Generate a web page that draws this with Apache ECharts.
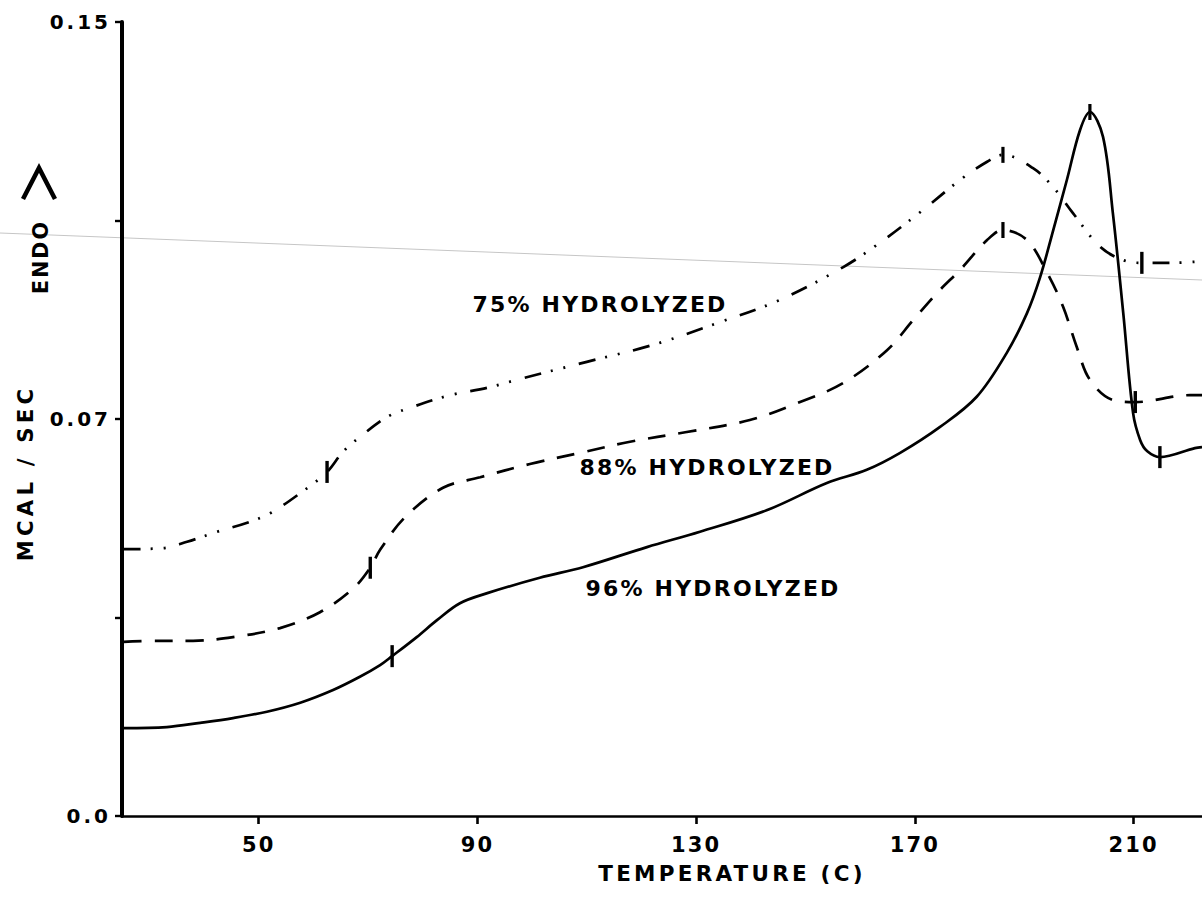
<!DOCTYPE html>
<html>
<head>
<meta charset="utf-8">
<script src="https://cdn.jsdelivr.net/npm/echarts@6/dist/echarts.min.js"></script>
<style>
  html, body { margin: 0; padding: 0; background: #ffffff; }
  #chart { width: 1202px; height: 913px; }
  /* tracking for the plotter-style lettering, keyed on font size */
  #chart text[style*="20px"]   { letter-spacing: 0.15em; }
  #chart text[style*="21px"]   { letter-spacing: 0.10em; }
  #chart text[style*="21.5px"] { letter-spacing: 0.15em; }
  #chart text[style*="22px"]   { letter-spacing: 0.10em; }
  #chart text[style*="21.2px"] { letter-spacing: 0.20em; }
  #chart text[style*="20.5px"] { letter-spacing: 0.10em; }
</style>
</head>
<body>
<div id="chart"></div>
<script>
// Temperature (C) and heat flow (mcal/sec) for each degree of hydrolysis
const t75 = [25.3, 32.5, 36.9, 42.4, 47.9, 52.1, 57.6, 62.5, 65.4, 68.5, 73.5, 78.2, 85.0, 91.8, 97.2, 110.0, 122.1, 133.8, 145.3, 156.9, 163.6, 171.5, 178.3, 183.2, 186.1, 191.6, 195.3, 198.9, 203.9, 208.1, 211.5, 216.7, 222.5];
const v75 = [0.0504, 0.0506, 0.0518, 0.0537, 0.0554, 0.0572, 0.0610, 0.0650, 0.0688, 0.0716, 0.0754, 0.0773, 0.0795, 0.0809, 0.0824, 0.0858, 0.0890, 0.0931, 0.0975, 0.1037, 0.1083, 0.1145, 0.1202, 0.1236, 0.1249, 0.1224, 0.1188, 0.1139, 0.1075, 0.1050, 0.1045, 0.1045, 0.1048];

const t88 = [25.3, 31.4, 38.0, 45.3, 53.9, 61.2, 67.2, 70.4, 72.2, 76.8, 83.7, 90.5, 99.6, 108.8, 117.9, 128.0, 139.8, 149.0, 156.9, 164.9, 169.7, 174.6, 178.3, 183.2, 186.1, 190.5, 194.2, 197.1, 199.6, 202.0, 206.2, 210.3, 220.3, 222.5];
const v88 = [0.0329, 0.0331, 0.0331, 0.0338, 0.0355, 0.0385, 0.0429, 0.0469, 0.0503, 0.0565, 0.0620, 0.0640, 0.0665, 0.0686, 0.0707, 0.0725, 0.0748, 0.0782, 0.0818, 0.0880, 0.0937, 0.0994, 0.1032, 0.1088, 0.1107, 0.1088, 0.1026, 0.0962, 0.0886, 0.0824, 0.0786, 0.0782, 0.0795, 0.0795];

const t96 = [25.3, 33.2, 39.3, 45.3, 51.5, 57.6, 63.6, 68.5, 72.2, 74.4, 78.9, 82.6, 86.8, 91.8, 101.4, 109.3, 121.0, 130.7, 143.0, 153.9, 161.2, 167.3, 174.6, 181.3, 186.8, 190.5, 192.9, 195.3, 197.8, 200.2, 202.0, 204.4, 206.2, 208.1, 209.9, 211.2, 212.5, 214.8, 221.2, 222.5];
const v96 = [0.0166, 0.0168, 0.0176, 0.0185, 0.0197, 0.0214, 0.0238, 0.0263, 0.0285, 0.0302, 0.0338, 0.0370, 0.0402, 0.0421, 0.0450, 0.0470, 0.0508, 0.0537, 0.0578, 0.0629, 0.0654, 0.0686, 0.0735, 0.0792, 0.0875, 0.0950, 0.1018, 0.1107, 0.1202, 0.1296, 0.1330, 0.1283, 0.1139, 0.0950, 0.0761, 0.0710, 0.0689, 0.0678, 0.0695, 0.0697];

// Transition marks (onset, peak, end) on each trace
const marks75 = [[62.5, 0.0650], [186.1, 0.1249], [211.5, 0.1045]];
const marks88 = [[70.4, 0.0469], [186.1, 0.1107], [210.3, 0.0782]];
const marks96 = [[74.4, 0.0302], [202.0, 0.1330], [214.8, 0.0678]];

// Axis ticks and labels
const xTicks = [50, 90, 130, 170, 210];
const yTickLabels = ['0.0', '', '0.07', '', '0.15'];
const curveLabels = ['75% HYDROLYZED', '88% HYDROLYZED', '96% HYDROLYZED'];

const zip = (xs, ys) => xs.map((x, i) => [x, ys[i]]);
const FONT = '"DejaVu Sans", "Liberation Sans", Arial, sans-serif';

const chart = echarts.init(document.getElementById('chart'), null, { renderer: 'svg' });

const lineSeries = (data, type) => ({
  type: 'line',
  data: data,
  showSymbol: false,
  smooth: 0.35,
  silent: true,
  lineStyle: { color: '#000', width: 2.7, type: type, cap: 'butt' },
  z: 3
});

const markSeries = (data) => ({
  type: 'scatter',
  data: data,
  symbol: 'rect',
  symbolSize: (val, p) => (p.dataIndex === 1 ? [3.2, 16] : [3.4, 22]),
  itemStyle: { color: '#000', opacity: 1 },
  silent: true,
  z: 4
});

const textEl = (x, y, text, size, rot) => ({
  type: 'text',
  x: x, y: y,
  rotation: rot || 0,
  silent: true,
  style: {
    text: text,
    fill: '#000',
    fontSize: size,
    fontWeight: 'bold',
    fontFamily: FONT,
    align: 'center', verticalAlign: 'middle',
    textAlign: 'center', textVerticalAlign: 'middle'
  }
});

chart.setOption({
  animation: false,
  backgroundColor: '#ffffff',
  grid: { left: 122, right: 0, top: 22, bottom: 97 },
  xAxis: {
    type: 'value',
    min: 25, max: 222.5,
    axisLine: { lineStyle: { color: '#000', width: 2.6 } },
    axisTick: { customValues: xTicks, length: 8, lineStyle: { color: '#000', width: 2.6 } },
    axisLabel: {
      customValues: xTicks, margin: 18,
      color: '#000', fontSize: 21, fontWeight: 'bold', fontFamily: FONT
    },
    splitLine: { show: false }
  },
  yAxis: {
    type: 'value',
    min: 0, max: 0.15, interval: 0.0375,
    axisLine: { show: true, lineStyle: { color: '#000', width: 4 } },
    axisTick: { show: true, length: 7, lineStyle: { color: '#000', width: 2.4 } },
    axisLabel: {
      margin: 11,
      color: '#000', fontSize: 20, fontWeight: 'bold', fontFamily: FONT,
      formatter: (v, i) => yTickLabels[i]
    },
    splitLine: { show: false }
  },
  graphic: [
    // faint scanner streak across the sheet
    { type: 'line', silent: true, z: -10,
      shape: { x1: 0, y1: 233, x2: 1202, y2: 280 },
      style: { stroke: '#c6c6c6', lineWidth: 1 } },
    // endotherm direction arrow
    { type: 'polyline', silent: true,
      shape: { points: [[23, 199], [39, 168], [55, 199]] },
      style: { stroke: '#000', lineWidth: 4.5, fill: null, lineJoin: 'miter' } },
    textEl(41, 257, 'ENDO', 20.5, Math.PI / 2),
    textEl(25, 473, 'MCAL / SEC', 21.2, Math.PI / 2),
    textEl(732, 873, 'TEMPERATURE (C)', 21.5),
    textEl(600, 304, curveLabels[0], 22),
    textEl(707, 467, curveLabels[1], 22),
    textEl(713, 588, curveLabels[2], 22)
  ],
  series: [
    lineSeries(zip(t96, v96), 'solid'),
    lineSeries(zip(t88, v88), [18, 13]),
    lineSeries(zip(t75, v75), [17, 10, 2, 11, 2, 14]),
    markSeries(marks96),
    markSeries(marks88),
    markSeries(marks75)
  ]
});
</script>
</body>
</html>
